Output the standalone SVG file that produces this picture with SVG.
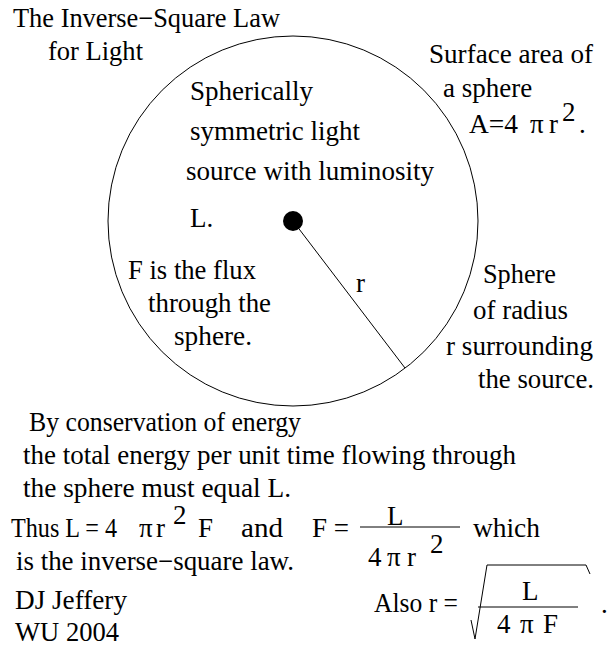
<svg xmlns="http://www.w3.org/2000/svg" width="614" height="652" viewBox="0 0 614 652">
<style>
text{font-family:"Liberation Serif","Times New Roman",serif;font-size:27px;fill:#000}
.ln{stroke:#000;stroke-width:1;fill:none}
</style>
<rect x="0" y="0" width="614" height="652" fill="#fff"/>
<g id="title">
<text x="13" y="27" textLength="267" lengthAdjust="spacingAndGlyphs">The Inverse−Square Law</text>
<text x="48" y="60" textLength="95" lengthAdjust="spacingAndGlyphs">for Light</text>
</g>
<g id="sphere">
<circle class="ln" cx="293" cy="221" r="185"/>
<circle cx="293" cy="221" r="10" fill="#000"/>
</g>
<g id="connectors">
<line class="ln" x1="293" y1="221" x2="405" y2="368"/>
</g>
<g id="radius-label">
<text x="356" y="292">r</text>
</g>
<g id="source-label">
<text x="190" y="100" textLength="123" lengthAdjust="spacingAndGlyphs">Spherically</text>
<text x="190" y="140" textLength="170" lengthAdjust="spacingAndGlyphs">symmetric light</text>
<text x="186" y="180" textLength="248" lengthAdjust="spacingAndGlyphs">source with luminosity</text>
<text x="190" y="227">L.</text>
</g>
<g id="flux-label">
<text x="128" y="279" textLength="128" lengthAdjust="spacingAndGlyphs">F is the flux</text>
<text x="148" y="312" textLength="123" lengthAdjust="spacingAndGlyphs">through the</text>
<text x="174" y="345" textLength="78" lengthAdjust="spacingAndGlyphs">sphere.</text>
</g>
<g id="area-label">
<text x="429" y="63" textLength="164" lengthAdjust="spacingAndGlyphs">Surface area of</text>
<text x="443" y="97">a sphere</text>
<text x="469" y="133" textLength="49" lengthAdjust="spacingAndGlyphs">A=4</text>
<text x="530" y="133">π</text>
<text x="549" y="133">r</text>
<text x="562" y="121">2</text>
<text x="579" y="133">.</text>
</g>
<g id="sphere-label">
<text x="483" y="283" textLength="73" lengthAdjust="spacingAndGlyphs">Sphere</text>
<text x="473" y="319" textLength="95" lengthAdjust="spacingAndGlyphs">of radius</text>
<text x="446" y="355" textLength="147" lengthAdjust="spacingAndGlyphs">r surrounding</text>
<text x="478" y="388" textLength="116" lengthAdjust="spacingAndGlyphs">the source.</text>
</g>
<g id="conservation">
<text x="29" y="431" textLength="272" lengthAdjust="spacingAndGlyphs">By conservation of energy</text>
<text x="23" y="464" textLength="493" lengthAdjust="spacingAndGlyphs">the total energy per unit time flowing through</text>
<text x="23" y="497" textLength="268" lengthAdjust="spacingAndGlyphs">the sphere must equal L.</text>
</g>
<g id="law">
<text x="11" y="537" textLength="106" lengthAdjust="spacingAndGlyphs">Thus L = 4</text>
<text x="139" y="537">π</text>
<text x="156" y="537">r</text>
<text x="173" y="524">2</text>
<text x="198" y="537">F</text>
<text x="241" y="537" textLength="42" lengthAdjust="spacingAndGlyphs">and</text>
<text x="312" y="537">F =</text>
<text x="387" y="525">L</text>
<line class="ln" x1="360" y1="527" x2="460" y2="527"/>
<text x="368" y="566">4</text>
<text x="387" y="566">π</text>
<text x="407" y="566">r</text>
<text x="430" y="553">2</text>
<text x="473" y="537" textLength="67" lengthAdjust="spacingAndGlyphs">which</text>
<text x="16" y="570" textLength="278" lengthAdjust="spacingAndGlyphs">is the inverse−square law.</text>
</g>
<g id="author">
<text x="15" y="609" textLength="112" lengthAdjust="spacingAndGlyphs">DJ Jeffery</text>
<text x="15" y="641" textLength="104" lengthAdjust="spacingAndGlyphs">WU 2004</text>
</g>
<g id="radius-formula">
<text x="374" y="612" textLength="84" lengthAdjust="spacingAndGlyphs">Also r =</text>
<path class="ln" d="M471 620 L475 639 L487 565 L586 565 L590 574"/>
<text x="522" y="600">L</text>
<line class="ln" x1="478" y1="607" x2="578" y2="607"/>
<text x="497" y="633">4</text>
<text x="520" y="633">π</text>
<text x="543" y="633">F</text>
<text x="601" y="613">.</text>
</g>
</svg>
